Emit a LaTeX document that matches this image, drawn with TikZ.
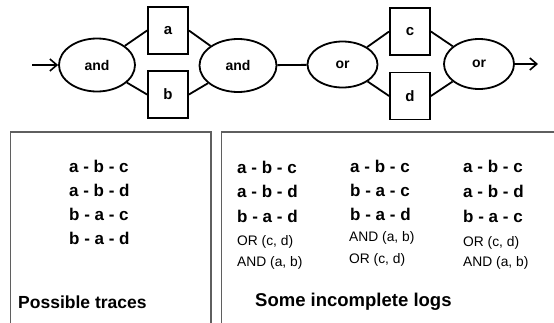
\documentclass[tikz,border=0pt]{standalone}
\usepackage{fontspec}
\setmainfont{Liberation Sans}
\usetikzlibrary{shapes.geometric,arrows.meta}

\tikzset{
  gate/.style={ellipse,draw,line width=1.8pt,inner sep=0pt,
    font=\fontsize{14}{16}\selectfont\bfseries},
  task/.style={rectangle,draw,line width=1.8pt,inner sep=0pt,
    minimum width=40pt,minimum height=47pt,
    font=\fontsize{15}{17}\selectfont\bfseries},
  flow/.style={line width=1.8pt},
  entry/.style={flow,-{Straight Barb[length=7pt,width=12pt,line width=1.6pt]}},
  panel/.style={draw={rgb,255:red,95;green,95;blue,95},line width=1.2pt},
  trace/.style={anchor=west,inner sep=0pt,font=\fontsize{17}{19}\selectfont\bfseries},
  order/.style={anchor=west,inner sep=0pt,font=\fontsize{13.8}{15}\selectfont},
  caption/.style={anchor=west,inner sep=0pt,font=\fontsize{17.5}{20}\selectfont\bfseries}
}

\begin{document}
\begin{tikzpicture}[x=1pt,y=-1pt]
\useasboundingbox (0,0) rectangle (554,322);

% process model: two AND gates around a, b and two OR gates around c, d
\node[gate,minimum width=76pt,minimum height=53pt] (and1) at (97,65) {and};
\node[gate,minimum width=77pt,minimum height=53pt] (and2) at (238,65.5) {and};
\node[gate,minimum width=70pt,minimum height=46pt] (or1) at (342.5,64.5) {or};
\node[gate,minimum width=70pt,minimum height=50pt] (or2) at (479,64) {or};

\node[task] (a) at (168,30.5) {a};
\node[task] (b) at (168,94.5) {b};
\node[task] (c) at (410,31.5) {c};
\node[task] (d) at (410,96) {d};

\coordinate (start) at (32,65);
\coordinate (end) at (538,64);

\draw[entry] (start) -- (and1);
\draw[flow] (and1) -- (a.west);
\draw[flow] (and1) -- (b.west);
\draw[flow] (a.east) -- (and2);
\draw[flow] (b.east) -- (and2);
\draw[flow] (and2) -- (or1);
\draw[flow] (or1) -- (c.west);
\draw[flow] (or1) -- (d.west);
\draw[flow] (c.east) -- (or2);
\draw[flow] (d.east) -- (or2);
\draw[entry] (or2) -- (end);

% lower panels
\draw[panel] (10.5,340) -- (10.5,132) -- (211,132) -- (211,340);
\draw[panel] (221.5,340) -- (221.5,132) -- (570,132);

% possible traces
\node[trace] (t1) at (69,166.5) {a - b - c};
\node[trace] (t2) at (69,190.5) {a - b - d};
\node[trace] (t3) at (69,214.5) {b - a - c};
\node[trace] (t4) at (69,238.5) {b - a - d};
\node[caption] (cap1) at (18,302) {Possible traces};

% incomplete logs
\node[trace] (l11) at (237,167) {a - b - c};
\node[trace] (l12) at (237,191) {a - b - d};
\node[trace] (l13) at (237,216) {b - a - d};
\node[order] (o11) at (237,242) {OR (c, d)};
\node[order] (o12) at (237,263) {AND (a, b)};

\node[trace] (l21) at (350,166) {a - b - c};
\node[trace] (l22) at (350,190) {b - a - c};
\node[trace] (l23) at (350,214) {b - a - d};
\node[order] (o21) at (349,238) {AND (a, b)};
\node[order] (o22) at (349,260) {OR (c, d)};

\node[trace] (l31) at (463,166.5) {a - b - c};
\node[trace] (l32) at (463,191) {a - b - d};
\node[trace] (l33) at (463,216) {b - a - c};
\node[order] (o31) at (463,243) {OR (c, d)};
\node[order] (o32) at (463,263) {AND (a, b)};

\node[caption,font=\fontsize{18.5}{21}\selectfont\bfseries] (cap2) at (255,302) {Some incomplete logs};
\end{tikzpicture}
\end{document}
